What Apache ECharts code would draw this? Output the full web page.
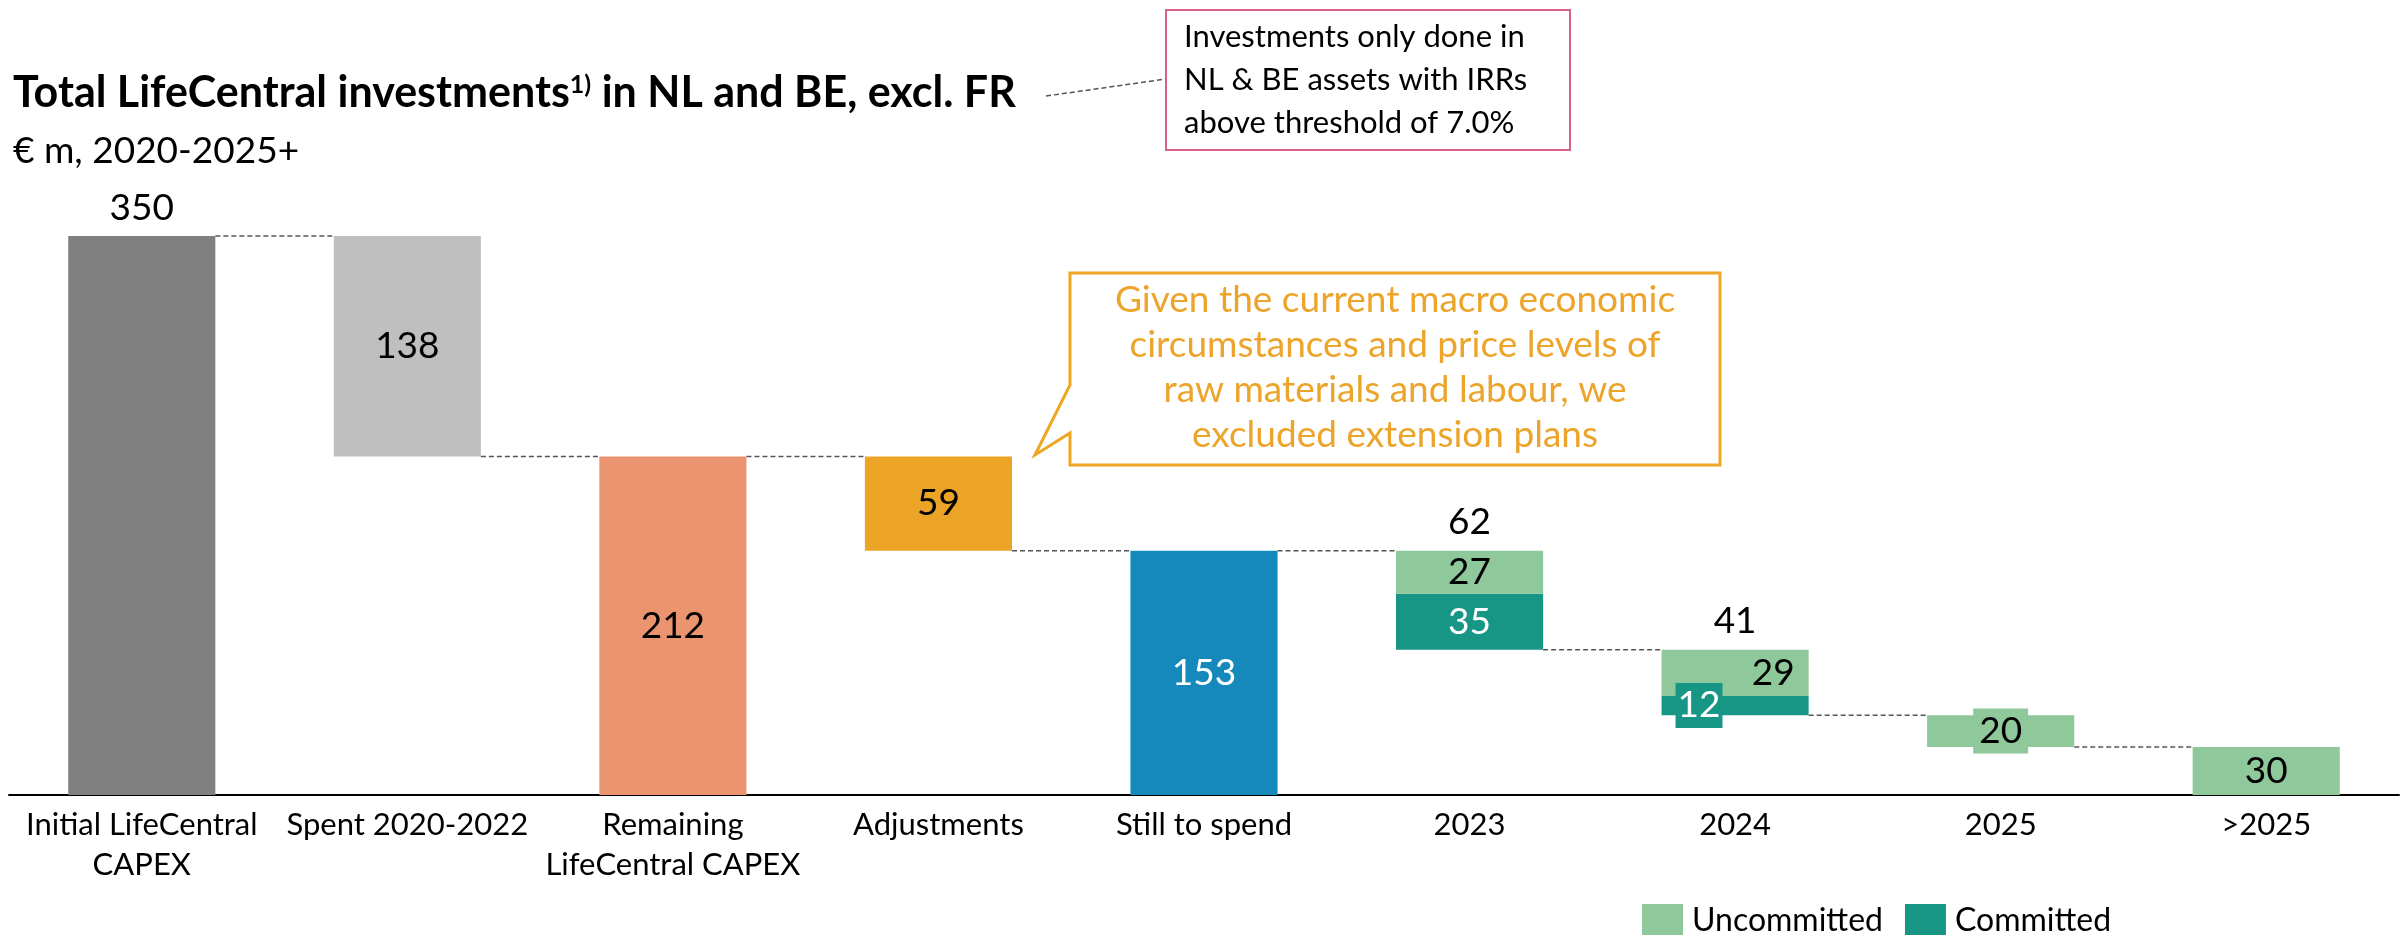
<!DOCTYPE html>
<html>
<head>
<meta charset="utf-8">
<title>LifeCentral investments</title>
<script src="https://cdn.jsdelivr.net/npm/echarts@6/dist/echarts.min.js"></script>
<style>
  html, body { margin: 0; padding: 0; background: #fff; }
  #chart { width: 2407px; height: 935px; }
</style>
</head>
<body>
<div id="chart"></div>
<script>
// € m
const categories = [
  'Initial LifeCentral\nCAPEX', 'Spent 2020-2022', 'Remaining\nLifeCentral CAPEX',
  'Adjustments', 'Still to spend', '2023', '2024', '2025', '>2025'
]
const baseValues = [0, 212, 0, 153, 0, 91, 50, 30, 0]
const mainValues = [350, 138, 212, 59, 153, '-', '-', '-', '-']
const committedValues = ['-', '-', '-', '-', '-', 35, 12, '-', '-']
const uncommittedValues = ['-', '-', '-', '-', '-', 27, 29, 20, 30]
const yearTotals = ['-', '-', '-', '-', '-', 62, 41, '-', '-']
// level of the dashed line going from bar i to bar i + 1
const connectorLevels = [350, 212, 212, 153, 153, 91, 50, 30]

const mainColors = ['#808080', '#bfbfbf', '#ea9470', '#eca426', '#1689bc']
const mainLabelColors = ['#000', '#000', '#000', '#000', '#fff']
const uncommittedColor = '#8fc89a'
const committedColor = '#179686'
const fontName = 'Lato'
const barRatio = 0.554
const valueFont = 37

let chartDom = document.getElementById('chart')
let myChart = echarts.init(chartDom)

let mainData = mainValues.map(function (v, i) {
  if (v === '-') return '-'
  let item = {
    value: v,
    itemStyle: {color: mainColors[i]},
    label: {position: 'inside', color: mainLabelColors[i]}
  }
  if (i === 0) {
    item.label = {position: 'top', distance: 9, color: '#000'}
  }
  return item
})

let committedData = committedValues.map(function (v, i) {
  if (v === '-') return '-'
  if (i === 6) {
    // thin slice, label sits in its own box
    return {
      value: v,
      label: {
        position: 'insideLeft',
        distance: 14,
        backgroundColor: committedColor,
        padding: [4, 2]
      }
    }
  }
  return v
})

let uncommittedData = uncommittedValues.map(function (v, i) {
  if (v === '-') return '-'
  if (i === 6) {
    return {value: v, label: {position: 'insideRight', distance: 14}}
  }
  if (i === 7) {
    return {
      value: v,
      label: {backgroundColor: uncommittedColor, padding: [4, 6]}
    }
  }
  return v
})

let totalData = yearTotals.map(function (v) {
  return v === '-' ? '-' : 0
})

let option = {
  animation: false,
  textStyle: {fontFamily: fontName},
  title: [
    {
      text: 'Total LifeCentral investments{sup|1)} in NL and BE, excl. FR',
      left: 8,
      top: 67,
      textStyle: {
        fontFamily: fontName,
        fontSize: 43,
        fontWeight: 'bold',
        color: '#000',
        rich: {
          sup: {fontFamily: fontName, fontSize: 25, fontWeight: 'bold', color: '#000', verticalAlign: 'top', padding: [0, 0, 18, 0]}
        }
      }
    },
    {
      text: '€ m, 2020-2025+',
      left: 8,
      top: 128,
      textStyle: {fontFamily: fontName, fontSize: 37, fontWeight: 'normal', color: '#000'}
    }
  ],
  legend: {
    data: ['Uncommitted', 'Committed'],
    left: 1637,
    top: 899,
    icon: 'rect',
    itemWidth: 41,
    itemHeight: 34,
    itemGap: 22,
    textStyle: {fontFamily: fontName, fontSize: 32, color: '#000', padding: [0, 0, 0, 4]}
  },
  grid: {left: 9, right: 8, top: 236, bottom: 140},
  xAxis: {
    type: 'category',
    data: categories,
    axisLine: {lineStyle: {color: '#000', width: 2}},
    axisTick: {show: false},
    axisLabel: {
      interval: 0,
      margin: 10,
      fontFamily: fontName,
      fontSize: 31,
      lineHeight: 40,
      color: '#000'
    }
  },
  yAxis: {type: 'value', min: 0, max: 350, show: false},
  graphic: [
    {
      type: 'line',
      shape: {x1: 1046, y1: 96, x2: 1166, y2: 79},
      style: {stroke: '#555', lineWidth: 1.5, lineDash: [5, 3]}
    },
    {
      type: 'rect',
      shape: {x: 1166, y: 10, width: 404, height: 140},
      style: {fill: '#fff', stroke: '#d9608a', lineWidth: 2}
    },
    {
      type: 'text',
      x: 1184,
      y: 15,
      style: {
        text: 'Investments only done in\nNL & BE assets with IRRs\nabove threshold of 7.0%',
        font: '31px Lato',
        lineHeight: 43,
        fill: '#000'
      }
    },
    {
      type: 'polygon',
      shape: {
        points: [[1070, 273], [1720, 273], [1720, 465], [1070, 465], [1070, 433], [1035, 455], [1070, 385]]
      },
      style: {fill: '#fff', stroke: '#eea623', lineWidth: 3}
    },
    {
      type: 'text',
      x: 1395,
      y: 278,
      style: {
        text: 'Given the current macro economic\ncircumstances and price levels of\nraw materials and labour, we\nexcluded extension plans',
        font: '37px Lato',
        lineHeight: 45,
        align: 'center',
        fill: '#eca42a'
      }
    }
  ],
  series: [
    {
      name: 'base',
      type: 'bar',
      stack: 'wf',
      barWidth: (barRatio * 100) + '%',
      itemStyle: {color: 'transparent'},
      silent: true,
      data: baseValues
    },
    {
      name: 'main',
      type: 'bar',
      stack: 'wf',
      label: {show: true, fontFamily: fontName, fontSize: valueFont},
      data: mainData
    },
    {
      name: 'Committed',
      type: 'bar',
      stack: 'wf',
      itemStyle: {color: committedColor},
      label: {show: true, position: 'inside', color: '#fff', fontFamily: fontName, fontSize: valueFont},
      data: committedData
    },
    {
      name: 'Uncommitted',
      type: 'bar',
      stack: 'wf',
      itemStyle: {color: uncommittedColor},
      label: {show: true, position: 'inside', color: '#000', fontFamily: fontName, fontSize: valueFont},
      data: uncommittedData
    },
    {
      name: 'total',
      type: 'bar',
      stack: 'wf',
      itemStyle: {color: 'transparent'},
      label: {
        show: true,
        position: 'top',
        distance: 10,
        color: '#000',
        fontFamily: fontName,
        fontSize: valueFont,
        formatter: function (p) {
          return yearTotals[p.dataIndex]
        }
      },
      data: totalData
    },
    {
      name: 'connectors',
      type: 'custom',
      silent: true,
      renderItem: function (params, api) {
        let idx = api.value(0)
        let level = api.value(1)
        let start = api.coord([idx, level])
        let end = api.coord([idx + 1, level])
        let halfBar = api.size([1, 0])[0] * barRatio / 2
        return {
          type: 'line',
          shape: {x1: start[0] + halfBar, y1: start[1], x2: end[0] - halfBar, y2: end[1]},
          style: {stroke: '#555', lineWidth: 1.5, lineDash: [5, 3]}
        }
      },
      encode: {x: 0, y: 1},
      data: connectorLevels.map(function (v, i) { return [i, v] })
    }
  ]
}
myChart.setOption(option)
</script>
</body>
</html>
